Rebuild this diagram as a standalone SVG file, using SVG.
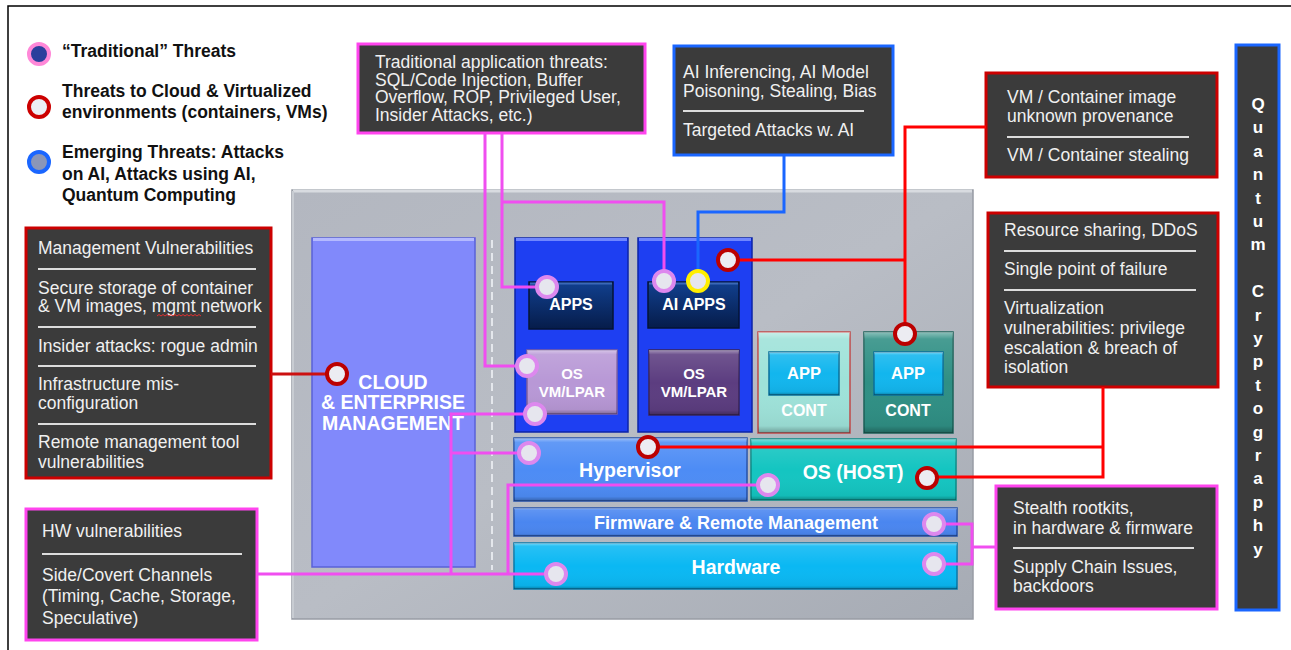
<svg xmlns="http://www.w3.org/2000/svg" width="1291" height="650" viewBox="0 0 1291 650">
<defs>
<linearGradient id="bevel" x1="0" y1="0" x2="0" y2="1">
<stop offset="0" stop-color="#fff" stop-opacity="0.45"/>
<stop offset="0.07" stop-color="#fff" stop-opacity="0.12"/>
<stop offset="0.5" stop-color="#fff" stop-opacity="0"/>
<stop offset="0.93" stop-color="#000" stop-opacity="0.05"/>
<stop offset="1" stop-color="#000" stop-opacity="0.3"/>
</linearGradient>
<linearGradient id="panelg" x1="0" y1="0" x2="1" y2="1">
<stop offset="0" stop-color="#b3b7c0"/>
<stop offset="0.5" stop-color="#b9bdc5"/>
<stop offset="1" stop-color="#a6abb4"/>
</linearGradient>
<linearGradient id="navy" x1="0" y1="0" x2="0" y2="1">
<stop offset="0" stop-color="#11408f"/>
<stop offset="1" stop-color="#061c4a"/>
</linearGradient>
<style>
.t{font-family:"Liberation Sans",Arial,sans-serif;font-size:17.5px;fill:#f0f0f0}
.lg{font-family:"Liberation Sans",Arial,sans-serif;font-size:17.5px;font-weight:bold;fill:#111}
.bt{font-family:"Liberation Sans",Arial,sans-serif;font-weight:bold;fill:#fff;text-anchor:middle}
.box{fill:#3b3b3b;stroke-width:3}
.rb{stroke:#cc0000}
.pb{stroke:#ff44ee}
.bb{stroke:#1a66ff}
.sep{stroke:#dcdcdc;stroke-width:2}
.gl{fill:url(#bevel)}
.pc{stroke:#f04ef0;stroke-width:3;fill:none}
.rc{stroke:#ff0000;stroke-width:3;fill:none}
.bc{stroke:#1a66ff;stroke-width:3;fill:none}
.dp{fill:#e6e6ee;stroke:#dd88ee;stroke-width:4}
.dr{fill:#ececf2;stroke:#bb0000;stroke-width:4}
.dy{fill:#e6e6ee;stroke:#ffee00;stroke-width:4}
</style>
</defs>
<rect x="0" y="0" width="1291" height="650" fill="#fff"/>
<rect x="8" y="6" width="1300" height="660" fill="none" stroke="#000" stroke-width="1.5"/>

<g id="legend">
<circle cx="39" cy="54" r="10" fill="#2b3f9c" stroke="#ff88d8" stroke-width="4"/>
<text class="lg" x="62" y="57">“Traditional” Threats</text>
<circle cx="39" cy="107" r="10" fill="#eceef4" stroke="#cc0000" stroke-width="4"/>
<text class="lg" x="62" y="97">Threats to Cloud &amp; Virtualized</text>
<text class="lg" x="62" y="118">environments (containers, VMs)</text>
<circle cx="39" cy="162" r="10" fill="#8a96b8" stroke="#1a66ff" stroke-width="4"/>
<text class="lg" x="62" y="158">Emerging Threats: Attacks</text>
<text class="lg" x="62" y="180">on AI, Attacks using AI,</text>
<text class="lg" x="62" y="201">Quantum Computing</text>
</g>

<g id="platform">
<rect x="292" y="190" width="681" height="429" fill="url(#panelg)" stroke="#989ca5" stroke-width="1.5"/>
<path d="M293,191 H972" stroke="#d8dbe0" stroke-width="3"/>
<path d="M293,191 V618" stroke="#c8ccd2" stroke-width="2"/>
<line x1="492" y1="240" x2="492" y2="570" stroke="#e4e7ec" stroke-width="2" stroke-dasharray="8 5"/>
</g>

<g id="cloud-mgmt">
<rect x="312" y="238" width="163" height="329" fill="#8189fb" stroke="#5a62d8" stroke-width="1.5"/>
<rect class="gl" x="312" y="238" width="163" height="40" style="fill:none"/>
<path d="M313,239.5 H474" stroke="#b4b9ff" stroke-width="3"/>
<text class="bt" font-size="19.5" x="393" y="389">CLOUD</text>
<text class="bt" font-size="19.5" x="393" y="409">&amp; ENTERPRISE</text>
<text class="bt" font-size="19.5" x="393" y="430">MANAGEMENT</text>
</g>

<g id="vm1">
<rect x="515" y="238" width="113" height="194" fill="#1e3ff2" stroke="#0c24a8" stroke-width="1.5"/>
<path d="M516,239.5 H627" stroke="#6f86ff" stroke-width="3"/>
</g>
<g id="vm2">
<rect x="638" y="238" width="114" height="194" fill="#1e3ff2" stroke="#0c24a8" stroke-width="1.5"/>
<path d="M639,239.5 H751" stroke="#6f86ff" stroke-width="3"/>
</g>

<g id="apps">
<rect x="529" y="282" width="84" height="47" fill="url(#navy)" stroke="#041436" stroke-width="1.5"/>
<path d="M530,283.5 H612" stroke="#3a68b8" stroke-width="2"/>
<text class="bt" font-size="16" x="571" y="310">APPS</text>
</g>
<g id="ai-apps">
<rect x="648" y="282" width="91" height="46" fill="url(#navy)" stroke="#041436" stroke-width="1.5"/>
<path d="M649,283.5 H738" stroke="#3a68b8" stroke-width="2"/>
<text class="bt" font-size="16" x="694" y="310">AI APPS</text>
</g>

<g id="os-vm1">
<rect x="527" y="350" width="90" height="64" fill="#b898d6" stroke="#7e5fa0" stroke-width="1.5"/>
<rect class="gl" x="527" y="350" width="90" height="64"/>
<text class="bt" font-size="15" x="572" y="379">OS</text>
<text class="bt" font-size="15" x="572" y="397">VM/LPAR</text>
</g>
<g id="os-vm2">
<rect x="649" y="350" width="90" height="65" fill="#5c3d80" stroke="#3a2558" stroke-width="1.5"/>
<rect class="gl" x="649" y="350" width="90" height="65"/>
<text class="bt" font-size="15" x="694" y="379">OS</text>
<text class="bt" font-size="15" x="694" y="397">VM/LPAR</text>
</g>

<g id="cont1">
<rect x="758" y="332" width="92" height="101" fill="#9ee2d9" stroke="#c04848" stroke-width="1.5"/>
<rect class="gl" x="758" y="332" width="92" height="101"/>
<rect x="769" y="352" width="70" height="43" fill="#12b6ee" stroke="#0a6f9a" stroke-width="1.5"/>
<rect class="gl" x="769" y="352" width="70" height="43"/>
<text class="bt" font-size="16.5" x="804" y="379">APP</text>
<text class="bt" font-size="16" x="804" y="416">CONT</text>
</g>
<g id="cont2">
<rect x="864" y="332" width="89" height="101" fill="#2f8f84" stroke="#1d6259" stroke-width="1.5"/>
<rect class="gl" x="864" y="332" width="89" height="101"/>
<rect x="874" y="352" width="69" height="43" fill="#12b6ee" stroke="#0a6f9a" stroke-width="1.5"/>
<rect class="gl" x="874" y="352" width="69" height="43"/>
<text class="bt" font-size="16.5" x="908" y="379">APP</text>
<text class="bt" font-size="16" x="908" y="416">CONT</text>
</g>

<g id="hypervisor">
<rect x="514" y="438" width="233" height="63" fill="#4d8cf5" stroke="#2550a8" stroke-width="1.5"/>
<rect class="gl" x="514" y="438" width="233" height="63"/>
<text class="bt" font-size="19.5" x="630" y="477">Hypervisor</text>
</g>
<g id="os-host">
<rect x="751" y="439" width="205" height="61" fill="#14c5c1" stroke="#0a8a86" stroke-width="1.5"/>
<rect class="gl" x="751" y="439" width="205" height="61"/>
<text class="bt" font-size="19.5" x="853" y="479">OS (HOST)</text>
</g>
<g id="firmware">
<rect x="514" y="508" width="443" height="28" fill="#4a86f0" stroke="#2550a8" stroke-width="1.5"/>
<rect class="gl" x="514" y="508" width="443" height="28"/>
<text class="bt" font-size="18" x="736" y="528.5">Firmware &amp; Remote Management</text>
</g>
<g id="hardware">
<rect x="514" y="543" width="443" height="46" fill="#0ab8f3" stroke="#0878a8" stroke-width="1.5"/>
<rect class="gl" x="514" y="543" width="443" height="46"/>
<text class="bt" font-size="19.5" x="736" y="574">Hardware</text>
</g>

<g id="box-traditional-app">
<rect class="box pb" x="358" y="44" width="287" height="89"/>
<text class="t" x="375" y="68">Traditional application threats:</text>
<text class="t" x="375" y="85.5">SQL/Code Injection, Buffer</text>
<text class="t" x="375" y="103">Overflow, ROP, Privileged User,</text>
<text class="t" x="375" y="120.5">Insider Attacks, etc.)</text>
</g>

<g id="box-ai">
<rect class="box bb" x="674" y="46" width="219" height="109"/>
<text class="t" x="683" y="78">AI Inferencing, AI Model</text>
<text class="t" x="683" y="97">Poisoning, Stealing, Bias</text>
<line class="sep" x1="683" y1="111" x2="864" y2="111"/>
<text class="t" x="683" y="136">Targeted Attacks w. AI</text>
</g>

<g id="box-vm-image">
<rect class="box rb" x="986" y="73" width="231" height="104"/>
<text class="t" x="1007" y="103">VM / Container image</text>
<text class="t" x="1007" y="122">unknown provenance</text>
<line class="sep" x1="1007" y1="137" x2="1189" y2="137"/>
<text class="t" x="1007" y="161">VM / Container stealing</text>
</g>

<g id="box-resource">
<rect class="box rb" x="988" y="213" width="230" height="174"/>
<text class="t" x="1004" y="236">Resource sharing, DDoS</text>
<line class="sep" x1="1004" y1="251" x2="1196" y2="251"/>
<text class="t" x="1004" y="275">Single point of failure</text>
<line class="sep" x1="1004" y1="290" x2="1196" y2="290"/>
<text class="t" x="1004" y="314">Virtualization</text>
<text class="t" x="1004" y="334">vulnerabilities: privilege</text>
<text class="t" x="1004" y="354">escalation &amp; breach of</text>
<text class="t" x="1004" y="373">isolation</text>
</g>

<g id="box-management">
<rect class="box rb" x="26" y="228" width="245" height="250"/>
<text class="t" x="38" y="254">Management Vulnerabilities</text>
<line class="sep" x1="38" y1="269" x2="256" y2="269"/>
<text class="t" x="38" y="294">Secure storage of container</text>
<text class="t" x="38" y="312">&amp; VM images, mgmt network</text>
<path d="M157,316 l2,-1.5 l2,1.5 l2,-1.5 l2,1.5 l2,-1.5 l2,1.5 l2,-1.5 l2,1.5 l2,-1.5 l2,1.5 l2,-1.5 l2,1.5 l2,-1.5 l2,1.5 l2,-1.5 l2,1.5 l2,-1.5 l2,1.5 l2,-1.5 l2,1.5 l2,-1.5 l2,1.5" fill="none" stroke="#e03030" stroke-width="1"/>
<line class="sep" x1="38" y1="327" x2="256" y2="327"/>
<text class="t" x="38" y="352">Insider attacks: rogue admin</text>
<line class="sep" x1="38" y1="366" x2="256" y2="366"/>
<text class="t" x="38" y="390">Infrastructure mis-</text>
<text class="t" x="38" y="409">configuration</text>
<line class="sep" x1="38" y1="424" x2="256" y2="424"/>
<text class="t" x="38" y="448">Remote management tool</text>
<text class="t" x="38" y="468">vulnerabilities</text>
</g>

<g id="box-hw">
<rect class="box pb" x="26" y="509" width="231" height="131"/>
<text class="t" x="42" y="537">HW vulnerabilities</text>
<line class="sep" x1="42" y1="554" x2="242" y2="554"/>
<text class="t" x="42" y="581">Side/Covert Channels</text>
<text class="t" x="42" y="602">(Timing, Cache, Storage,</text>
<text class="t" x="42" y="624">Speculative)</text>
</g>

<g id="box-stealth">
<rect class="box pb" x="996" y="486" width="221" height="123"/>
<text class="t" x="1013" y="514">Stealth rootkits,</text>
<text class="t" x="1013" y="534">in hardware &amp; firmware</text>
<line class="sep" x1="1013" y1="548" x2="1194" y2="548"/>
<text class="t" x="1013" y="573">Supply Chain Issues,</text>
<text class="t" x="1013" y="592">backdoors</text>
</g>

<g id="box-quantum">
<rect class="box bb" x="1236" y="45" width="43" height="565"/>
<text class="bt" font-size="17" x="1258">
<tspan x="1258" y="110">Q</tspan><tspan x="1258" y="133.4">u</tspan><tspan x="1258" y="156.8">a</tspan><tspan x="1258" y="180.2">n</tspan><tspan x="1258" y="203.6">t</tspan><tspan x="1258" y="227">u</tspan><tspan x="1258" y="250.4">m</tspan><tspan x="1258" y="297.2">C</tspan><tspan x="1258" y="320.6">r</tspan><tspan x="1258" y="344">y</tspan><tspan x="1258" y="367.4">p</tspan><tspan x="1258" y="390.8">t</tspan><tspan x="1258" y="414.2">o</tspan><tspan x="1258" y="437.6">g</tspan><tspan x="1258" y="461">r</tspan><tspan x="1258" y="484.4">a</tspan><tspan x="1258" y="507.8">p</tspan><tspan x="1258" y="531.2">h</tspan><tspan x="1258" y="554.6">y</tspan>
</text>
</g>

<g id="connectors">
<path class="pc" d="M485,133 V366 H527"/>
<path class="pc" d="M502,133 V287 H547"/>
<path class="pc" d="M502,202 H664 V281"/>
<path class="pc" d="M535,414 H451 V574"/>
<path class="pc" d="M451,453 H529"/>
<path class="pc" d="M257,574 H556"/>
<path class="pc" d="M768,485 H508 V574"/>
<path class="pc" d="M934,524 H972 V564 H934"/>
<path class="pc" d="M972,547 H996"/>
<path class="bc" d="M784,155 V212 H698 V281"/>
<path class="rc" d="M986,127 H905 V334"/>
<path class="rc" d="M905,260 H728"/>
<path class="rc" d="M271,374 H337" style="stroke:#cc1010"/>
<path class="rc" d="M1103,387 V477 H927"/>
<path class="rc" d="M1103,447 H648"/>
</g>

<g id="threat-markers">
<circle class="dp" cx="547" cy="287" r="10"/>
<circle class="dp" cx="664" cy="281" r="10"/>
<circle class="dy" cx="698" cy="281" r="10"/>
<circle class="dp" cx="527" cy="366" r="10"/>
<circle class="dp" cx="535" cy="414" r="10"/>
<circle class="dp" cx="529" cy="453" r="10"/>
<circle class="dp" cx="768" cy="485" r="10"/>
<circle class="dp" cx="556" cy="574" r="10"/>
<circle class="dp" cx="934" cy="524" r="10"/>
<circle class="dp" cx="934" cy="564" r="10"/>
<circle class="dr" cx="728" cy="260" r="10"/>
<circle class="dr" cx="905" cy="334" r="10"/>
<circle class="dr" cx="337" cy="374" r="10"/>
<circle class="dr" cx="648" cy="447" r="10"/>
<circle class="dr" cx="927" cy="478" r="10"/>
</g>
</svg>
